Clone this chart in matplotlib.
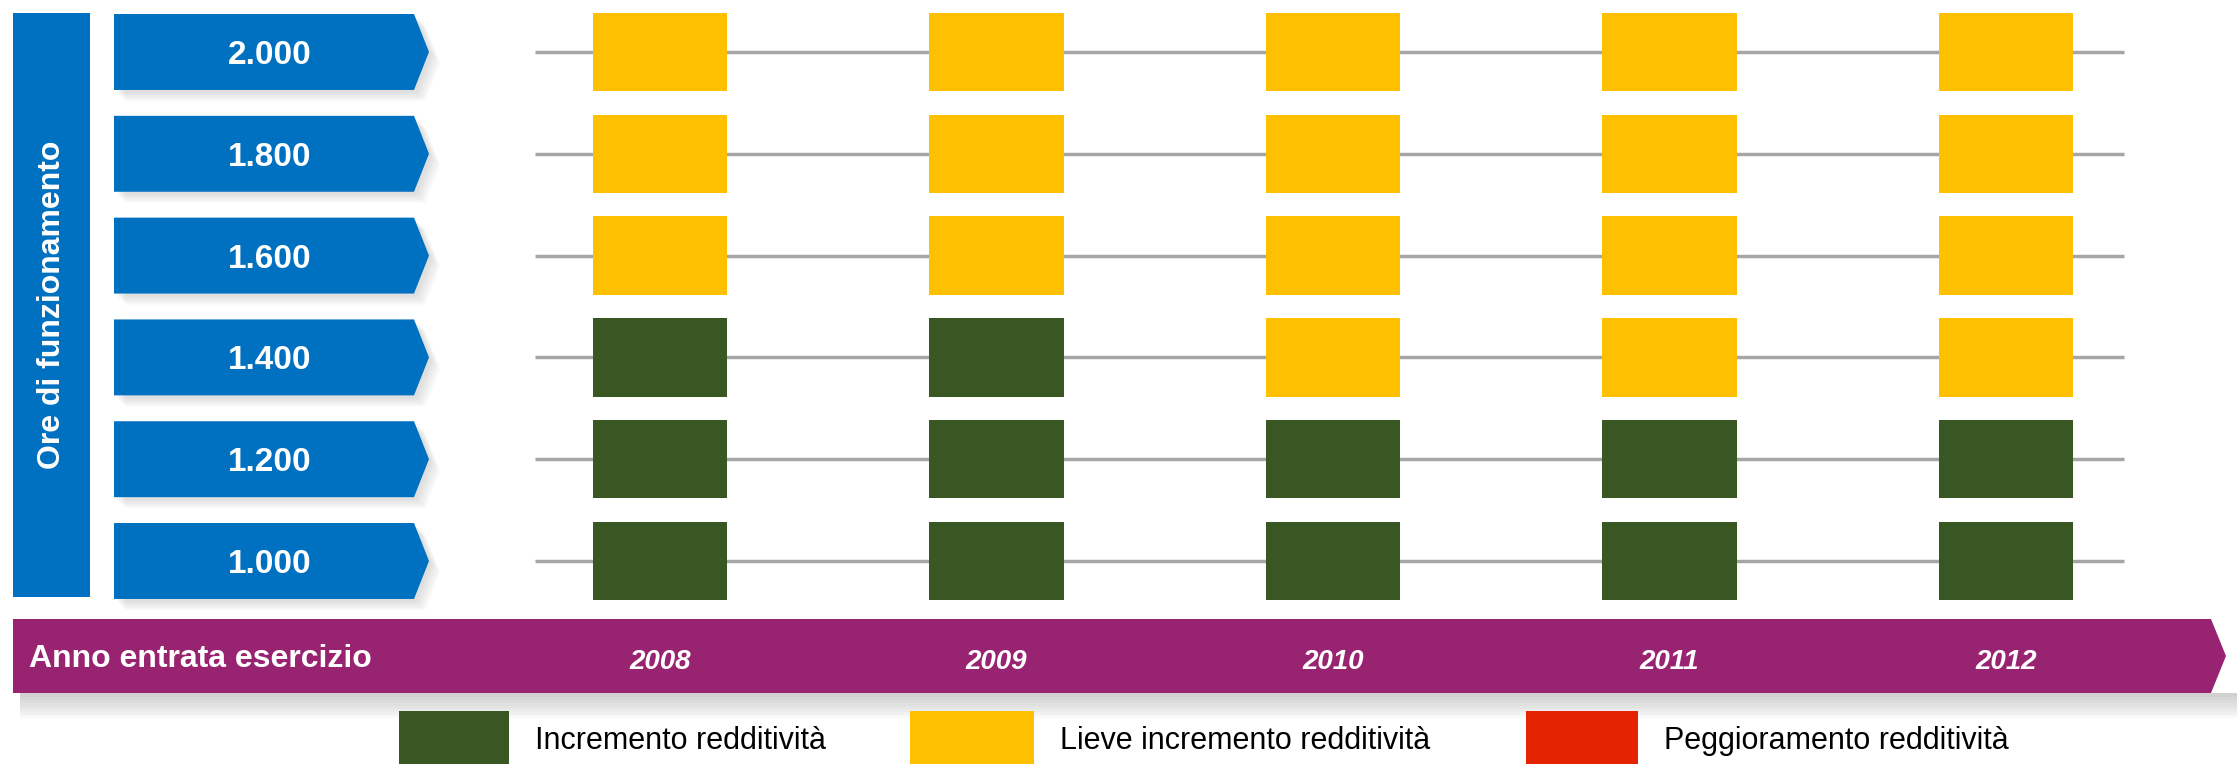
import matplotlib.pyplot as plt
from matplotlib.patches import Polygon, Rectangle
from matplotlib.transforms import blended_transform_factory

plt.rcParams['font.family'] = ['Liberation Sans', 'DejaVu Sans']

# dati
anni = [2008, 2009, 2010, 2011, 2012]
ore = ['1.000', '1.200', '1.400', '1.600', '1.800', '2.000']
# esito per riga (dal basso): 0 incremento, 1 lieve incremento, 2 peggioramento
esito = [
    [0, 0, 0, 0, 0],   # 1.000
    [0, 0, 0, 0, 0],   # 1.200
    [0, 0, 1, 1, 1],   # 1.400
    [1, 1, 1, 1, 1],   # 1.600
    [1, 1, 1, 1, 1],   # 1.800
    [1, 1, 1, 1, 1],   # 2.000
]
categorie = ['Incremento redditività', 'Lieve incremento redditività', 'Peggioramento redditività']
colori = ['#385723', '#FFC000', '#E42300']

blu = '#0070C0'
viola = '#982370'

W, H = 2237, 764
fig = plt.figure(figsize=(W / 100, H / 100), dpi=100)

# asse di sfondo in pixel (y verso il basso)
bg = fig.add_axes([0, 0, 1, 1])
bg.set_xlim(0, W)
bg.set_ylim(H, 0)
bg.axis('off')

# asse della griglia: x = anno, y = indice riga
ax = fig.add_axes([0, 0, 1, 1])
ax.patch.set_alpha(0)
ax.axis('off')
col0, dcol = 660, 336.5
row0, drow = 561, 101.8
ax.set_xlim(anni[0] - col0 / dcol, anni[0] + (W - col0) / dcol)
ax.set_ylim(-(H - row0) / drow, row0 / drow)

righe = list(range(len(ore)))

# linee grigie
ax.hlines(righe, anni[0] - 0.37, anni[-1] + 0.35, color='#A6A6A6', lw=2.5, zorder=1)

# quadrati
for r in righe:
    ax.bar(anni, 0.77, bottom=r - 0.385, width=0.40,
           color=[colori[c] for c in esito[r]], zorder=2)

# frecce blu con le ore
tr = blended_transform_factory(bg.transData, ax.transData)
h = 0.373
for r, lab in zip(righe, ore):
    pts = [(114, r + h), (414, r + h), (429, r), (414, r - h), (114, r - h)]
    for k in range(5):
        off = 3 + k * 2
        sh = [(x + off, y - off / drow) for x, y in pts]
        ax.add_patch(Polygon(sh, closed=True, transform=tr, color='#808080',
                             alpha=0.05, lw=0, zorder=3))
    ax.add_patch(Polygon(pts, closed=True, transform=tr, color=blu, lw=0, zorder=4))
    ax.text(270, r, lab, transform=tr, ha='center', va='center_baseline',
            color='white', fontsize=24, fontweight='bold', zorder=5)

# barra verticale
bg.add_patch(Rectangle((13, 13), 77, 584, color=blu, lw=0))
bg.text(52, 305, 'Ore di funzionamento', rotation=90, ha='center', va='center',
        color='white', fontsize=23, fontweight='bold')

# banda anni con ombra
for k in range(8):
    bg.add_patch(Rectangle((20, 693), W - 20, 4 + k * 3, color='#909090',
                           alpha=0.06, lw=0))
bg.add_patch(Polygon([(13, 619), (2211, 619), (2226, 656), (2211, 693), (13, 693)],
                     closed=True, color=viola, lw=0))
bg.text(29, 667, 'Anno entrata esercizio', ha='left', va='baseline',
        color='white', fontsize=23, fontweight='bold')
tr2 = blended_transform_factory(ax.transData, bg.transData)
for a in anni:
    ax.text(a, 669, str(a), transform=tr2, ha='center', va='baseline', color='white',
            fontsize=20, fontweight='bold', fontstyle='italic', zorder=5)

# legenda
leg_x = [399, 910, 1526]
leg_w = [110, 124, 112]
for x, w, lab, col in zip(leg_x, leg_w, categorie, colori):
    bg.add_patch(Rectangle((x, 711), w, 60, color=col, lw=0))
    bg.text(x + w + 26, 749, lab, ha='left', va='baseline', color='black', fontsize=22)

fig.savefig('out.png', dpi=100)
